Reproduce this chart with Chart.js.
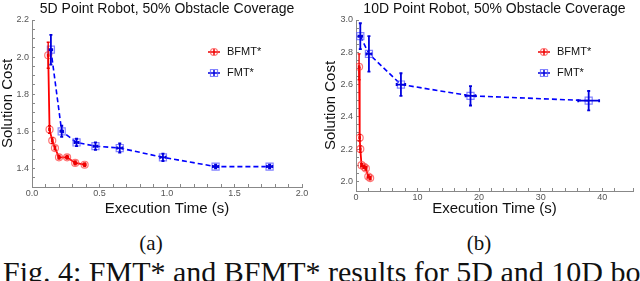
<!DOCTYPE html>
<html>
<head>
<meta charset="utf-8">
<script src="https://cdn.jsdelivr.net/npm/chart.js@4.4.0/dist/chart.umd.min.js"></script>
<style>
html, body { margin: 0; padding: 0; background: #fff; width: 640px; height: 281px; overflow: hidden; }
.box { position: absolute; top: 0; width: 320px; height: 216px; }
.sub { position: absolute; top: 233px; font-family: "Liberation Serif", serif; font-size: 21px; line-height: 1; color: #111; transform: translateX(-50%); }
#cap { position: absolute; left: 3px; top: 257px; font-family: "Liberation Serif", serif; font-size: 30px; line-height: 1; white-space: nowrap; color: #111; }
</style>
</head>
<body>
<div class="box" style="left:0"><canvas id="chartA"></canvas></div>
<div class="box" style="left:320px"><canvas id="chartB"></canvas></div>
<div class="sub" style="left:151px">(a)</div>
<div class="sub" style="left:479px">(b)</div>
<div id="cap">Fig. 4: FMT* and BFMT* results for 5D and 10D bottleneck</div>
<script>
// (a) 5D point robot
const bfmtTimeA = [0.12, 0.13, 0.15, 0.17, 0.20, 0.26, 0.32, 0.39];
const bfmtCostA = [2.01, 1.61, 1.55, 1.51, 1.46, 1.46, 1.43, 1.42];
const bfmtCostErrA = [0.07, 0.02, 0.015, 0.01, 0.01, 0.01, 0.01, 0.01];
const bfmtTimeErrA = [0.005, 0.005, 0.005, 0.005, 0.008, 0.01, 0.01, 0.01];

const fmtTimeA = [0.14, 0.22, 0.33, 0.47, 0.65, 0.97, 1.36, 1.76];
const fmtCostA = [2.04, 1.60, 1.54, 1.52, 1.51, 1.46, 1.41, 1.41];
const fmtCostErrA = [0.08, 0.03, 0.02, 0.02, 0.025, 0.02, 0.01, 0.01];
const fmtTimeErrA = [0.01, 0.01, 0.015, 0.015, 0.02, 0.02, 0.02, 0.02];

// (b) 10D point robot
const bfmtTimeB = [0.5, 0.6, 0.7, 0.9, 1.3, 1.6, 2.0, 2.3];
const bfmtCostB = [2.71, 2.27, 2.20, 2.10, 2.09, 2.08, 2.03, 2.02];
const bfmtCostErrB = [0.08, 0.02, 0.02, 0.01, 0.01, 0.01, 0.01, 0.01];
const bfmtTimeErrB = [0.1, 0.1, 0.1, 0.1, 0.1, 0.1, 0.1, 0.1];

const fmtTimeB = [0.7, 2.1, 7.3, 18.6, 37.8];
const fmtCostB = [2.90, 2.79, 2.60, 2.53, 2.50];
const fmtCostErrB = [0.08, 0.11, 0.07, 0.06, 0.06];
const fmtTimeErrB = [0.3, 0.4, 0.7, 0.8, 1.7];

const seriesNames = ['BFMT*', 'FMT*'];
const titleA = '5D Point Robot, 50% Obstacle Coverage';
const titleB = '10D Point Robot, 50% Obstacle Coverage';

const SANS = '"Liberation Sans", Arial, sans-serif';

function pts(xs, ys) {
    return xs.map((x, i) => ({ x: x, y: ys[i] }));
}

// error bars, drawn through the scales
const errorBars = {
    id: 'errorBars',
    afterDatasetsDraw(chart) {
        const ctx = chart.ctx;
        const xs = chart.scales.x, ys = chart.scales.y;
        ctx.save();
        chart.data.datasets.forEach(ds => {
            ctx.strokeStyle = ds.errColor;
            ctx.lineWidth = ds.errWidth;
            ctx.setLineDash([]);
            ds.data.forEach((p, i) => {
                const px = xs.getPixelForValue(p.x), py = ys.getPixelForValue(p.y);
                const y1 = ys.getPixelForValue(p.y + ds.yErr[i]);
                const y2 = ys.getPixelForValue(p.y - ds.yErr[i]);
                const x1 = xs.getPixelForValue(p.x - ds.xErr[i]);
                const x2 = xs.getPixelForValue(p.x + ds.xErr[i]);
                ctx.beginPath();
                ctx.moveTo(px, y1); ctx.lineTo(px, y2);
                ctx.moveTo(px - 1.5, y1); ctx.lineTo(px + 1.5, y1);
                ctx.moveTo(px - 1.5, y2); ctx.lineTo(px + 1.5, y2);
                ctx.moveTo(x1, py); ctx.lineTo(x2, py);
                ctx.moveTo(x1, py - 1.5); ctx.lineTo(x1, py + 1.5);
                ctx.moveTo(x2, py - 1.5); ctx.lineTo(x2, py + 1.5);
                ctx.stroke();
            });
        });
        ctx.restore();
    }
};

// title and inset legend
const decor = {
    id: 'decor',
    afterDraw(chart, args, opts) {
        const { ctx, chartArea } = chart;
        ctx.save();
        ctx.fillStyle = '#111';
        ctx.font = '14px ' + SANS;
        ctx.textAlign = 'center';
        ctx.textBaseline = 'middle';
        ctx.fillText(opts.title, (chartArea.left + chartArea.right) / 2, 9);

        ctx.font = '11px ' + SANS;
        ctx.textAlign = 'left';
        chart.data.datasets.forEach((ds, k) => {
            const cx = opts.legendX, cy = opts.legendY + k * 21;
            ctx.strokeStyle = ds.errColor;
            ctx.lineWidth = 1.5;
            ctx.setLineDash([]);
            ctx.beginPath();
            ctx.moveTo(cx - 6, cy); ctx.lineTo(cx + 6, cy);
            ctx.moveTo(cx, cy - 3); ctx.lineTo(cx, cy + 3);
            ctx.stroke();
            ctx.strokeStyle = ds.pointBorderColor;
            ctx.lineWidth = 1.2;
            ctx.beginPath();
            if (ds.pointStyle === 'rect') ctx.rect(cx - 3.5, cy - 3.5, 7, 7);
            else ctx.arc(cx, cy, 3.5, 0, Math.PI * 2);
            ctx.stroke();
            ctx.fillStyle = '#111';
            ctx.fillText(ds.label, opts.legendX + 13, cy);
        });
        ctx.restore();
    }
};

function seriesSet(bx, by, bye, bxe, fx, fy, fye, fxe) {
    return [{
        label: seriesNames[0],
        data: pts(bx, by),
        yErr: bye, xErr: bxe,
        showLine: true,
        borderColor: '#ff0000',
        borderWidth: 1.8,
        pointStyle: 'circle',
        pointRadius: 3.5,
        pointBorderWidth: 1.2,
        pointBorderColor: 'rgba(255,70,70,0.75)',
        pointBackgroundColor: 'rgba(255,255,255,0)',
        errColor: '#ee0000',
        errWidth: 1.4
    }, {
        label: seriesNames[1],
        data: pts(fx, fy),
        yErr: fye, xErr: fxe,
        showLine: true,
        borderColor: '#0000ff',
        borderWidth: 1.6,
        borderDash: [5, 3],
        pointStyle: 'rect',
        pointRadius: 5,
        pointBorderWidth: 1.2,
        pointBorderColor: 'rgba(90,90,255,0.75)',
        pointBackgroundColor: 'rgba(255,255,255,0)',
        errColor: '#0000dd',
        errWidth: 1.8
    }];
}

function isMult(v, step) {
    const r = v / step;
    return Math.abs(r - Math.round(r)) < 1e-6;
}

function makeChart(id, cfg) {
    const axisCommon = {
        border: { color: '#888', width: 1 },
        grid: { drawOnChartArea: false, drawTicks: true, tickLength: -3, color: '#888' }
    };
    return new Chart(document.getElementById(id), {
        type: 'scatter',
        data: { datasets: cfg.datasets },
        options: {
            responsive: true,
            maintainAspectRatio: false,
            animation: false,
            layout: { padding: { top: 20, right: cfg.padRight, left: 0, bottom: 0 } },
            elements: { line: { tension: 0 } },
            plugins: {
                legend: { display: false },
                tooltip: { enabled: false },
                decor: { title: cfg.title, legendX: cfg.legendX, legendY: 52 }
            },
            scales: {
                x: Object.assign({}, axisCommon, {
                    type: 'linear',
                    min: 0, max: cfg.xMax,
                    afterFit: s => { s.height = cfg.xAxisH; },
                    ticks: {
                        stepSize: cfg.xStep, autoSkip: false, maxRotation: 0, padding: 4,
                        color: '#555', font: { family: SANS, size: 9 },
                        callback: v => isMult(v, cfg.xLabelStep) ? v.toFixed(cfg.xDigits) : ''
                    },
                    title: { display: true, text: 'Execution Time (s)', color: '#111',
                        font: { family: SANS, size: 15, lineHeight: 1 }, padding: { top: 0, bottom: 0 } }
                }),
                y: Object.assign({}, axisCommon, {
                    type: 'linear',
                    min: cfg.yMin, max: cfg.yMax,
                    afterFit: s => { s.width = cfg.yAxisW; },
                    ticks: {
                        stepSize: 0.05, autoSkip: false, padding: 6,
                        color: '#555', font: { family: SANS, size: 9 },
                        callback: v => isMult(v, 0.2) ? v.toFixed(1) : ''
                    },
                    title: { display: true, text: 'Solution Cost', color: '#111',
                        font: { family: SANS, size: 15, lineHeight: 1 }, padding: { top: cfg.yTitlePad, bottom: 0 } }
                })
            }
        },
        plugins: [errorBars, decor]
    });
}

makeChart('chartA', {
    title: titleA,
    datasets: seriesSet(bfmtTimeA, bfmtCostA, bfmtCostErrA, bfmtTimeErrA,
                        fmtTimeA, fmtCostA, fmtCostErrA, fmtTimeErrA),
    xMax: 2.0, xStep: 0.1, xLabelStep: 0.5, xDigits: 1,
    yMin: 1.3, yMax: 2.2,
    padRight: 18, yAxisW: 32, xAxisH: 29, yTitlePad: 0,
    legendX: 214
});

makeChart('chartB', {
    title: titleB,
    datasets: seriesSet(bfmtTimeB, bfmtCostB, bfmtCostErrB, bfmtTimeErrB,
                        fmtTimeB, fmtCostB, fmtCostErrB, fmtTimeErrB),
    xMax: 45, xStep: 2, xLabelStep: 10, xDigits: 0,
    yMin: 1.94, yMax: 3.0,
    padRight: 7, yAxisW: 36, xAxisH: 25, yTitlePad: 3,
    legendX: 224
});
</script>
</body>
</html>
